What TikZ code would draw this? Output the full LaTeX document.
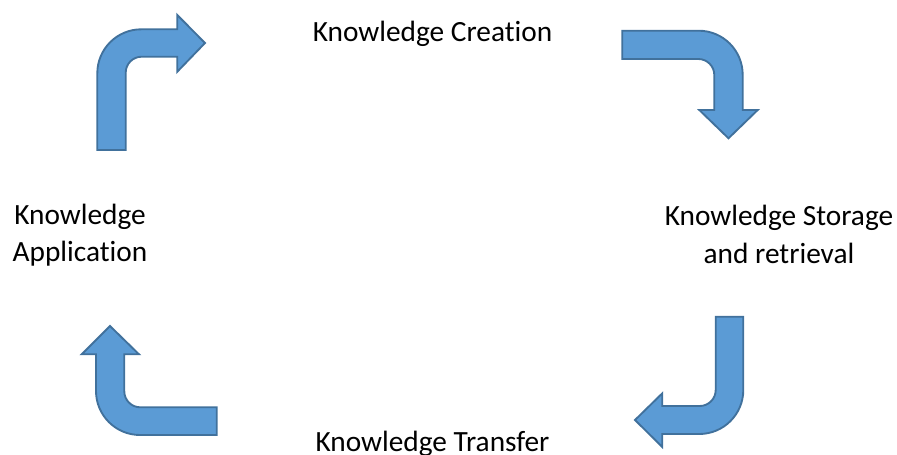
\documentclass[tikz,border=0pt]{standalone}
\usepackage{fontspec}
\setmainfont{Carlito}[Ligatures={NoCommon,NoRequired}]
\usepackage{tikz}
\usetikzlibrary{positioning}
\definecolor{Fill}{HTML}{5B9BD5}
\definecolor{Edge}{HTML}{41719C}

\begin{document}
\begin{tikzpicture}[
      x=0.75pt, y=0.75pt,
      label/.style={anchor=base, align=center, inner sep=0pt,
                    font=\fontsize{22}{27.8}\selectfont},
      bent/.style={draw=Edge, fill=Fill, line width=1.4pt, line join=miter}
    ]
      \useasboundingbox (0,0) rectangle (897,-454);

      \node[label] (creation) at (432.5,-41.7) {Knowledge Creation};
      \node[label] (storage) at (779,-263) {Knowledge Storage\\and retrieval};
      \node[label] (transfer) at (432.5,-451) {Knowledge Transfer};
      \node[label] (application) at (80,-261.7) {Knowledge\\Application};

      % top left
      \draw[bent] (97.3,-150) -- (97.3,-73.3) arc[start angle=180, end angle=90, radius=44]
        -- (177.3,-29.3) -- (177.3,-15) -- (205,-43) -- (177.3,-71.7) -- (177.3,-56.7)
        -- (141.7,-56.7) arc[start angle=90, end angle=180, radius=16]
        -- (125.7,-150) -- cycle;
      % top right
      \draw[bent] (622.3,-30.7) -- (698.7,-30.7) arc[start angle=90, end angle=0, radius=44]
        -- (742.7,-110) -- (757.7,-110) -- (728.5,-138.3) -- (699.3,-110) -- (714.3,-110)
        -- (714.3,-75) arc[start angle=0, end angle=90, radius=16]
        -- (622.3,-59) -- cycle;
      % bottom right
      \draw[bent] (715.7,-316.7) -- (743.3,-316.7) -- (743.3,-390)
        arc[start angle=0, end angle=-90, radius=44]
        -- (662.3,-434) -- (662.3,-447) -- (635,-420) -- (662.3,-393.3) -- (662.3,-406)
        -- (699.7,-406) arc[start angle=-90, end angle=0, radius=16] -- cycle;
      % bottom left
      \draw[bent] (216.7,-407.3) -- (140.3,-407.3) arc[start angle=-90, end angle=-180, radius=16]
        -- (124.3,-354.3) -- (139,-354.3) -- (110,-326) -- (81.7,-354.3) -- (96,-354.3)
        -- (96,-391) arc[start angle=180, end angle=270, radius=44]
        -- (216.7,-435) -- cycle;
    \end{tikzpicture}
\end{document}
